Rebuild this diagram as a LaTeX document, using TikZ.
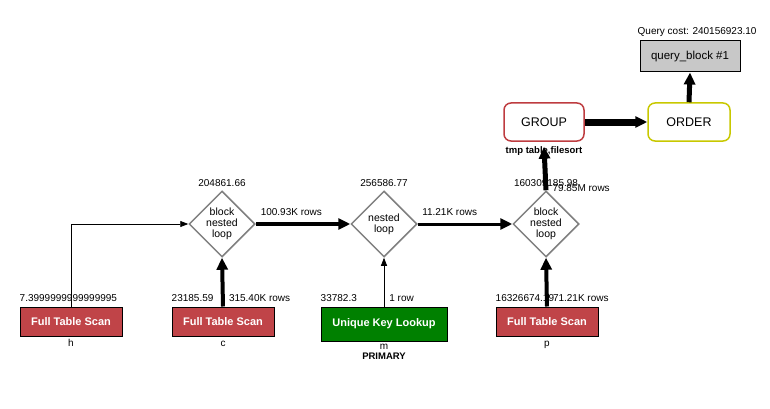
\documentclass[tikz,border=0pt]{standalone}
\usepackage{fontspec}
\setmainfont{Liberation Sans}
\usepackage{xcolor}
\usepackage{tikz}
\usetikzlibrary{shapes,arrows.meta,positioning,calc}

\definecolor{scanred}{RGB}{192,68,72}
\definecolor{lookgreen}{RGB}{0,128,0}
\definecolor{groupred}{RGB}{190,60,64}
\definecolor{orderolive}{RGB}{200,200,0}
\definecolor{blockgray}{RGB}{200,200,200}

\begin{document}
\begin{tikzpicture}[x=1pt,y=-1pt,
    scanbox/.style={draw, line width=1pt, text=white, font=\bfseries\fontsize{11}{13}\selectfont,
        minimum width=102pt, minimum height=29pt, inner sep=0pt},
    loopshape/.style={diamond, draw=gray, line width=1.5pt, fill=white,
        minimum width=66pt, minimum height=66pt, inner sep=0pt},
    looptext/.style={align=center, font=\fontsize{10.5}{11}\selectfont, inner sep=0pt},
    opbox/.style={draw, rounded corners=7pt, line width=1.5pt, fill=white,
        minimum width=80pt, minimum height=38pt, font=\fontsize{12.5}{14}\selectfont},
    lbl/.style={font=\fontsize{10}{11}\selectfont, inner sep=0pt},
    thinflow/.style={line width=0.8pt, -{Triangle[length=8pt,width=6pt]}},
    flow/.style={line width=#1, -{Triangle[length=12pt,width=11pt]}}
]
\useasboundingbox (0,0) rectangle (770,409);

% table accesses
\node[scanbox, fill=scanred] (hscan) at (71,321.5) {Full Table Scan};
\node[scanbox, fill=scanred] (cscan) at (223,321.5) {Full Table Scan};
\node[scanbox, fill=lookgreen, minimum width=126pt, minimum height=34pt] (mlook) at (384,324) {Unique Key Lookup};
\node[scanbox, fill=scanred] (pscan) at (547,321.5) {Full Table Scan};

\node[lbl, anchor=base] (hname) at ($(hscan.south)+(0,10)$) {h};
\node[lbl, anchor=base] (cname) at ($(cscan.south)+(0,10)$) {c};
\node[lbl, anchor=base] (mname) at ($(mlook.south)+(0,8)$) {m};
\node[lbl, anchor=base, font=\bfseries\fontsize{9.5}{10}\selectfont] (mkey) at ($(mlook.south)+(0,18)$) {PRIMARY};
\node[lbl, anchor=base] (pname) at ($(pscan.south)+(0,10)$) {p};

\node[lbl, anchor=base west] (hcost) at ($(hscan.north west)+(0,-5)$) {7.3999999999999995};
\node[lbl, anchor=base west] (ccost) at ($(cscan.north west)+(0,-5)$) {23185.59};
\node[lbl, anchor=base west] (mcost) at ($(mlook.north west)+(0,-5)$) {33782.3};
\node[lbl, anchor=base west] (pcost) at ($(pscan.north west)+(0,-5)$) {16326674.19};

% joins
\node[loopshape] (bnlA) at (222,224) {};
\node[looptext] (bnlAtext) at (bnlA) {block\\nested\\loop};
\node[loopshape] (nloop) at (384,224) {};
\node[looptext] (nlooptext) at (nloop) {nested\\loop};
\node[loopshape] (bnlB) at (546,224) {};
\node[looptext] (bnlBtext) at (bnlB) {block\\nested\\loop};

\node[lbl, anchor=base] (bnlAcost) at ($(bnlA.north)+(0,-4)$) {204861.66};
\node[lbl, anchor=base] (nloopcost) at ($(nloop.north)+(0,-4)$) {256586.77};
\node[lbl, anchor=base] (bnlBcost) at ($(bnlB.north)+(0,-4)$) {160309185.98};

% operations
\node[opbox, draw=groupred] (group) at (544,122) {GROUP};
\node[lbl, anchor=base, font=\bfseries\fontsize{9.5}{10}\selectfont] (grouptmp) at ($(group.south)+(0,12)$) {tmp table,filesort};
\node[opbox, draw=orderolive, minimum width=82pt] (order) at (689,122) {ORDER};
\node[draw, line width=1pt, fill=blockgray, minimum width=100pt, minimum height=31pt,
      font=\fontsize{11.5}{13}\selectfont] (qblock) at (690,56.5) {query\_block \#1};
\node[lbl, anchor=base west] (qcost) at ($(qblock.north west)+(-2,-6)$) {Query cost: 240156923.10};

% connectors
\draw[thinflow] (hscan.north) |- (bnlA.west);
\draw[flow=4pt] (cscan.north) -- (bnlA.south)
    node[lbl, pos=0, anchor=base west, xshift=4pt, yshift=5pt] (crows) {315.40K rows};
\draw[thinflow] (mlook.north) -- (nloop.south)
    node[lbl, pos=0, anchor=base west, xshift=5pt, yshift=5pt] (mrows) {1 row};
\draw[flow=4pt] (pscan.north) -- (bnlB.south)
    node[lbl, pos=0, anchor=base west, xshift=4pt, yshift=5pt] (prows) {71.21K rows};
\draw[flow=4pt] (bnlA.east) -- (nloop.west)
    node[lbl, pos=0, anchor=base west, xshift=3pt, yshift=9pt] (arows) {100.93K rows};
\draw[flow=3pt] (nloop.east) -- (bnlB.west)
    node[lbl, pos=0, anchor=base west, xshift=3pt, yshift=9pt] (nrows) {11.21K rows};
\draw[flow=5pt] (bnlB.north) -- (grouptmp.north)
    node[lbl, pos=0, anchor=base west, xshift=4pt, yshift=-1pt] (brows) {79.85M rows};
\draw[flow=7pt] (group.east) -- (order.west);
\draw[flow=5pt] (order.north) -- (qblock.south);
\end{tikzpicture}
\end{document}
